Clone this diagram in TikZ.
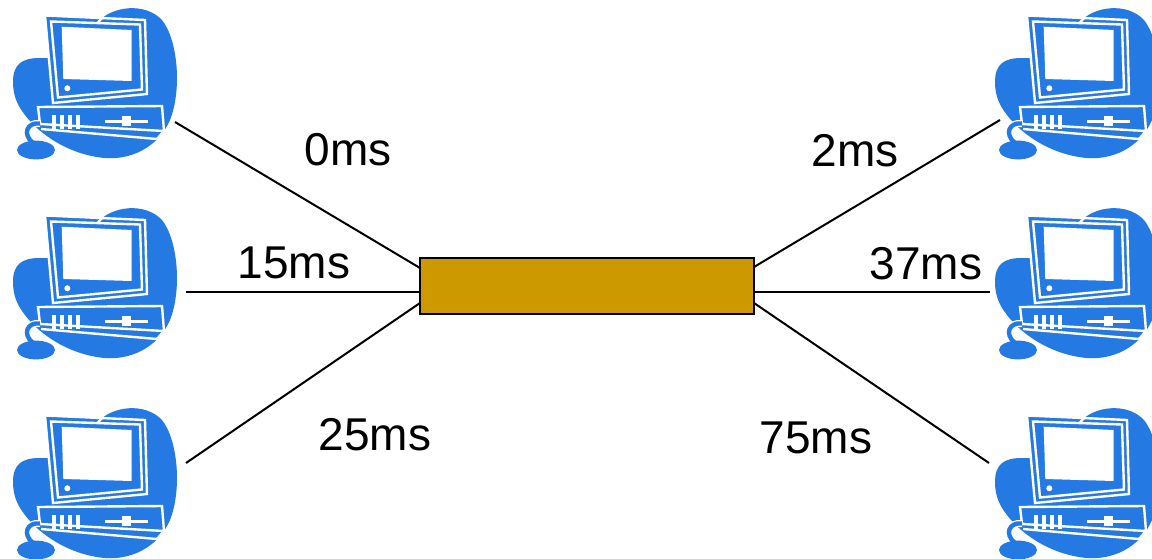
\documentclass[tikz,border=0pt]{standalone}
\usepackage{fontspec}
\setmainfont{Liberation Sans}
\definecolor{pcblue}{HTML}{2479E3}
\definecolor{hubgold}{HTML}{CC9900}
\begin{document}
\begin{tikzpicture}[x=0.5pt,y=-0.5pt,
  link/.style={draw=black,line width=1pt},
  lbl/.style={anchor=base,inner sep=0pt,font=\fontsize{23}{27}\selectfont},
  hubbox/.style={draw=black,fill=hubgold,line width=1.2pt,minimum width=167pt,minimum height=28pt,inner sep=0pt},
  computer/.pic={
    % background blob
    \fill[pcblue] (13,82) .. controls (13,64) and (22,58) .. (40,58) -- (60,58) -- (98,22)
      .. controls (112,6) and (145,2) .. (162,20)
      .. controls (178,40) and (182,90) .. (170,120)
      .. controls (158,148) and (130,160) .. (105,158)
      .. controls (70,155) and (40,135) .. (25,115)
      .. controls (17,105) and (13,95) .. (13,82) -- cycle;
    % monitor
    \filldraw[fill=pcblue,draw=white,line width=1.2pt] (45,15.5) -- (145,20) -- (147,94) -- (53,103) -- cycle;
    \draw[white,line width=1.2pt] (51,21.5) -- (140,24.5) -- (142,89.5) -- (58,97.5) -- cycle;
    \draw[white,line width=1.2pt] (102,18) -- (98,22.5);
    \fill[white] (61.7,26.7) -- (131.7,30) -- (131.7,81) -- (63.3,79) -- cycle;
    \fill[white] (67.3,88.3) circle [radius=1.5pt];
    % base unit
    \filldraw[fill=pcblue,draw=white,line width=1.2pt] (38,107) -- (162,106) -- (164,131) -- (40,124) -- cycle;
    \draw[white,line width=1.2pt] (41,129) -- (157,139) -- (164,131);
    \foreach \bx in {51.5,59.8,68.1,76.4}{\fill[white] (\bx,114.5) rectangle ++(4,14);}
    \draw[white,line width=1.5pt] (105,121) -- (148,121);
    \fill[white] (121.5,116) rectangle (130.5,125.5);
    % cord and mouse
    \draw[white,line width=3.5pt] (33,143) .. controls (22,134) and (27,122) .. (40,123.5);
    \draw[pcblue,line width=2.2pt] (33,143) .. controls (22,134) and (27,122) .. (40,123.5);
    \fill[pcblue] (36,150) ellipse [x radius=9.5pt,y radius=4.7pt];
  }]
\useasboundingbox (0,0) rectangle (1152,558);
\clip (0,0) rectangle (1152,558);
\fill[white] (0,0) rectangle (1152,558);

% computers
\pic at (0,0) {computer};
\pic at (0,200) {computer};
\pic at (0,400) {computer};
\pic at (982,0) {computer};
\pic at (982,200) {computer};
\pic at (982,400) {computer};

% hub
\node[hubbox] (hub) at (587,286) {};

% connector end points
\coordinate (pcL1) at (175,122);
\coordinate (pcL2) at (186,292);
\coordinate (pcL3) at (186,463);
\coordinate (pcR1) at (1000,120);
\coordinate (pcR2) at (990,292);
\coordinate (pcR3) at (989,463);
\coordinate (hL1) at (420,268);
\coordinate (hL2) at (420,292);
\coordinate (hL3) at (420,303);
\coordinate (hR1) at (754,267);
\coordinate (hR2) at (754,292);
\coordinate (hR3) at (754,303);

\draw[link] (pcL1) -- (hL1);
\draw[link] (pcL2) -- (hL2);
\draw[link] (pcL3) -- (hL3);
\draw[link] (hR1) -- (pcR1);
\draw[link] (hR2) -- (pcR2);
\draw[link] (hR3) -- (pcR3);

% labels
\node[lbl] (t0) at (348,165) {0ms};
\node[lbl] (t15) at (294,278) {15ms};
\node[lbl] (t25) at (375,450) {25ms};
\node[lbl] (t2) at (855,166) {2ms};
\node[lbl] (t37) at (926,279) {37ms};
\node[lbl] (t75) at (816,453) {75ms};
\end{tikzpicture}
\end{document}
